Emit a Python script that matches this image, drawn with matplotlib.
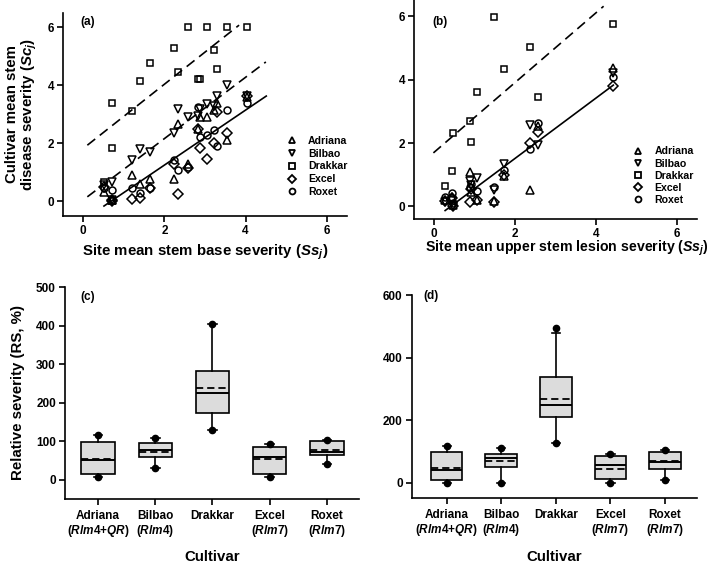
import matplotlib
matplotlib.use("Agg")
import matplotlib.pyplot as plt
from matplotlib.lines import Line2D
import numpy as np

plt.rcParams['font.family'] = ['Liberation Sans', 'DejaVu Sans']
plt.rcParams['font.weight'] = 'bold'
plt.rcParams['axes.labelweight'] = 'bold'
plt.rcParams['mathtext.fontset'] = 'custom'
plt.rcParams['mathtext.it'] = 'Liberation Sans:italic:bold'
plt.rcParams['mathtext.rm'] = 'Liberation Sans:bold'
plt.rcParams['mathtext.bf'] = 'Liberation Sans:bold'
plt.rcParams['mathtext.sf'] = 'Liberation Sans:bold'

cultivars = ['Adriana', 'Bilbao', 'Drakkar', 'Excel', 'Roxet']
markers = {'Adriana': '^', 'Bilbao': 'v', 'Drakkar': 's', 'Excel': 'D', 'Roxet': 'o'}
msizes = {'Adriana': 5.2, 'Bilbao': 5.2, 'Drakkar': 4.8, 'Excel': 4.6, 'Roxet': 5.0}

# ---- Panel (a) data: site mean stem base severity ----
sites_a = [0.51, 0.70, 0.72, 1.21, 1.40, 1.64, 2.24, 2.34, 2.58, 2.82, 2.87, 3.04, 3.21, 3.30, 3.53, 4.04]
adriana_a = [0.32, 0.03, 0.05, 0.91, 0.61, 0.77, 0.78, 2.66, 1.28, 2.50, 2.89, 2.92, 3.14, 3.37, 2.10, 3.60]
bilbao_a = [0.55, 0.05, 0.67, 1.41, 1.79, 1.70, 2.36, 3.18, 2.89, 2.95, 3.17, 3.34, 3.30, 3.63, 4.00, 3.62]
drakkar_a = [0.67, 1.82, 3.40, 3.11, 4.16, 4.76, 5.30, 4.47, 6.00, 4.23, 4.23, 6.00, 5.22, 4.57, 6.00, 6.00]
excel_a = [0.50, 0.02, 0.05, 0.07, 0.11, 0.44, 1.30, 0.24, 1.16, 2.50, 1.84, 1.45, 2.01, 3.06, 2.36, 3.62]
roxet_a = [0.45, 0.38, 0.05, 0.44, 0.29, 0.47, 1.41, 1.09, 1.18, 3.25, 2.20, 2.28, 2.45, 1.91, 3.14, 3.40]
data_a = {'Adriana': adriana_a, 'Bilbao': bilbao_a, 'Drakkar': drakkar_a,
          'Excel': excel_a, 'Roxet': roxet_a}
# fitted regression lines (slope, intercept, x start, x end, style)
lines_a = [(1.107, 1.82, 0.10, 3.84, 'dash'),
           (1.057, 0.045, 0.10, 4.50, 'dash'),
           (0.948, -0.65, 0.51, 4.51, 'solid')]

# ---- Panel (b) data: site mean upper stem lesion severity ----
sites_b = [0.26, 0.43, 0.47, 0.89, 0.92, 1.05, 1.47, 1.73, 2.36, 2.57, 4.43]
adriana_b = [0.20, 0.30, 0.05, 1.09, 0.45, 0.20, 0.18, 0.95, 0.51, 2.55, 4.38]
bilbao_b = [0.15, 0.20, 0.00, 0.80, 0.68, 0.88, 0.50, 1.35, 2.57, 1.93, 4.20]
drakkar_b = [0.63, 1.13, 2.33, 2.69, 2.02, 3.60, 5.97, 4.34, 5.03, 3.46, 5.76]
excel_b = [0.17, 0.25, 0.02, 0.14, 0.55, 0.20, 0.15, 1.00, 2.00, 2.36, 3.80]
roxet_b = [0.30, 0.43, 0.10, 0.60, 0.70, 0.48, 0.60, 1.14, 1.80, 2.62, 4.10]
data_b = {'Adriana': adriana_b, 'Bilbao': bilbao_b, 'Drakkar': drakkar_b,
          'Excel': excel_b, 'Roxet': roxet_b}
lines_b = [(1.10, 1.71, -0.02, 4.19, 'dash'),
           (0.952, -0.39, 0.27, 4.43, 'solid')]

# ---- Panel (c)/(d) box statistics ----
box_labels = ['Adriana\n($\\mathit{Rlm4{+}QR}$)', 'Bilbao\n($\\mathit{Rlm4}$)', 'Drakkar',
              'Excel\n($\\mathit{Rlm7}$)', 'Roxet\n($\\mathit{Rlm7}$)']
c_q1 = [14, 60, 172, 14, 63]
c_med = [50, 77, 226, 60, 72]
c_q3 = [98, 94, 281, 85, 101]
c_mean = [55, 71, 237, 54, 78]
c_wlo = [6, 31, 129, 8, 40]
c_whi = [115, 109, 405, 92, 104]
c_fliers = [[6, 115], [31, 109], [129, 405], [8, 92], [40, 104]]

d_q1 = [10, 51, 210, 11, 43]
d_med = [42, 80, 248, 55, 66]
d_q3 = [97, 92, 338, 84, 99]
d_mean = [47, 70, 269, 45, 70]
d_wlo = [0, 0, 128, 0, 10]
d_whi = [116, 110, 477, 92, 103]
d_fliers = [[0, 116], [0, 110], [128, 493], [0, 92], [10, 103]]

TICK_FS = 8.5
LABEL_FS = 10.8
W, H = 709, 563
fig = plt.figure(figsize=(W / 100, H / 100), dpi=100)

def add_ax(l, r, t, b):
    return fig.add_axes([l / W, 1 - b / H, (r - l) / W, (b - t) / H])

ax_a = add_ax(63, 347, 12.7, 215.7)
ax_b = add_ax(414, 697, 0.5, 219)
ax_c = add_ax(65, 359, 287, 499)
ax_d = add_ax(411.7, 696.7, 295, 498.3)

def style(ax):
    for s in ['top', 'right']:
        ax.spines[s].set_visible(False)
    for s in ['left', 'bottom']:
        ax.spines[s].set_linewidth(1.2)
    ax.tick_params(direction='out', length=4, width=1.2, labelsize=TICK_FS, pad=2.5)
    for lab in ax.get_xticklabels() + ax.get_yticklabels():
        lab.set_fontweight('bold')

def scatter_panel(ax, sites, data, lines, ylim, leg_pos, lspace):
    for cv in cultivars:
        ax.plot(sites, data[cv], linestyle='none', marker=markers[cv], ms=msizes[cv],
                mfc='none', mec='black', mew=1.1, zorder=3)
    for slope, icpt, x0, x1, st in lines:
        xs = np.array([x0, x1])
        if st == 'dash':
            ax.plot(xs, icpt + slope * xs, color='black', lw=1.2, dashes=(6, 3.5), zorder=2)
        else:
            ax.plot(xs, icpt + slope * xs, color='black', lw=1.2, zorder=2)
    ax.set_xlim(-0.5, 6.5)
    ax.set_ylim(*ylim)
    ax.set_xticks([0, 2, 4, 6])
    ax.set_yticks([0, 2, 4, 6])
    style(ax)
    handles = [Line2D([], [], linestyle='none', marker=markers[cv], ms=msizes[cv] * 0.85,
                      mfc='none', mec='black', mew=1.3) for cv in cultivars]
    leg = ax.legend(handles, cultivars, loc='upper left', bbox_to_anchor=leg_pos,
                    bbox_transform=fig.transFigure, frameon=False, fontsize=7.6,
                    handlelength=0.8, handletextpad=1.15, labelspacing=lspace,
                    borderpad=0, borderaxespad=0, numpoints=1)
    for t in leg.get_texts():
        t.set_fontweight('bold')

scatter_panel(ax_a, sites_a, data_a, lines_a, (-0.5, 6.5), (287.5 / W, 1 - 136 / H), 0.26)
scatter_panel(ax_b, sites_b, data_b, lines_b, (-0.4, 6.5), (634 / W, 1 - 146.5 / H), 0.2)

ax_a.set_xlabel('Site mean stem base severity ($\\mathit{Ss_j}$)', fontsize=LABEL_FS,
                fontweight='bold')
ax_a.xaxis.set_label_coords(0.5, -0.135)
ax_a.set_ylabel('Cultivar mean stem\ndisease severity ($\\mathit{Sc_j}$)', fontsize=LABEL_FS,
                fontweight='bold', linespacing=1.0)
ax_a.yaxis.set_label_coords(-0.086, 0.5)
ax_b.set_xlabel('Site mean upper stem lesion severity ($\\mathit{Ss_j}$)', fontsize=10.2,
                fontweight='bold')
ax_b.xaxis.set_label_coords(0.54, -0.092)

fig.text(80 / W, 1 - 22 / H, '(a)', fontsize=8.5, fontweight='bold', va='center', ha='left')
fig.text(432 / W, 1 - 22 / H, '(b)', fontsize=8.5, fontweight='bold', va='center', ha='left')

def box_panel(ax, q1, med, q3, mean, wlo, whi, fliers, ylim, yticks, xlim):
    stats = []
    for i in range(5):
        stats.append(dict(q1=q1[i], med=med[i], q3=q3[i], mean=mean[i],
                          whislo=wlo[i], whishi=whi[i], fliers=fliers[i]))
    ax.bxp(stats, positions=[1, 2, 3, 4, 5], widths=0.58, patch_artist=True,
           showmeans=True, meanline=True, showfliers=True,
           boxprops=dict(facecolor='#dcdcdc', edgecolor='black', linewidth=1.2),
           medianprops=dict(color='black', linewidth=1.4),
           meanprops=dict(color='black', linewidth=1.3, linestyle=(0, (4, 2.2))),
           whiskerprops=dict(color='black', linewidth=1.2),
           capprops=dict(color='black', linewidth=1.2),
           capwidths=0.15,
           flierprops=dict(marker='o', markersize=4.5, markerfacecolor='black',
                           markeredgecolor='black'))
    ax.set_xlim(*xlim)
    ax.set_ylim(*ylim)
    ax.set_yticks(yticks)
    ax.set_xticks([1, 2, 3, 4, 5])
    ax.set_xticklabels(box_labels, linespacing=1.05)
    style(ax)
    ax.tick_params(axis='x', pad=4)
    ax.set_xlabel('Cultivar', fontsize=LABEL_FS, fontweight='bold')

box_panel(ax_c, c_q1, c_med, c_q3, c_mean, c_wlo, c_whi, c_fliers, (-50, 500),
          [0, 100, 200, 300, 400, 500], (0.424, 5.56))
box_panel(ax_d, d_q1, d_med, d_q3, d_mean, d_wlo, d_whi, d_fliers, (-50, 600),
          [0, 200, 400, 600], (0.36, 5.58))
ax_c.xaxis.set_label_coords(0.5, -0.24)
ax_d.xaxis.set_label_coords(0.5, -0.255)
ax_c.set_ylabel('Relative severity (RS, %)', fontsize=LABEL_FS, fontweight='bold')
ax_c.yaxis.set_label_coords(-0.135, 0.5)

fig.text(80 / W, 1 - 297 / H, '(c)', fontsize=8.5, fontweight='bold', va='center', ha='left')
fig.text(423 / W, 1 - 296 / H, '(d)', fontsize=8.5, fontweight='bold', va='center', ha='left')

fig.savefig('out.png', dpi=100)
